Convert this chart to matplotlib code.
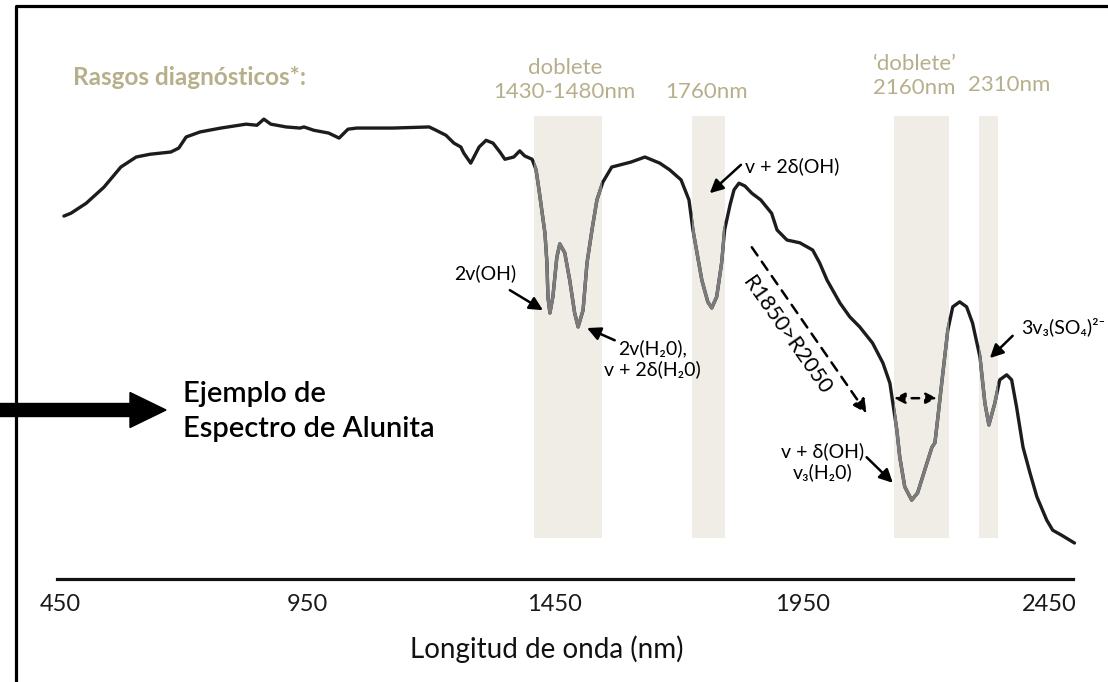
import matplotlib
matplotlib.use('Agg')
import matplotlib.pyplot as plt
from matplotlib.patches import Rectangle, FancyArrow
from matplotlib.lines import Line2D
from matplotlib.transforms import Affine2D

plt.rcParams['font.family'] = ['Lato', 'DejaVu Sans']

# Espectro de alunita: longitud de onda (nm) y reflectancia (%)
longitud_onda = [458, 472, 503, 539, 573, 604, 632, 674, 690, 705, 733, 775, 826, 848, 862, 876,
                 907, 935, 943, 963, 993, 1014, 1032, 1050, 1123, 1196, 1210, 1230, 1246, 1260,
                 1266, 1280, 1297, 1311, 1325, 1339, 1349, 1367, 1379, 1389, 1404, 1412, 1418,
                 1430, 1434, 1436, 1440, 1446, 1454, 1460, 1470, 1480, 1490, 1497, 1507, 1515,
                 1525, 1535, 1547, 1565, 1604, 1632, 1662, 1682, 1705, 1721, 1729, 1747, 1759,
                 1767, 1777, 1787, 1793, 1804, 1812, 1822, 1834, 1848, 1866, 1888, 1899, 1919,
                 1945, 1971, 1985, 2000, 2026, 2046, 2066, 2092, 2113, 2127, 2133, 2141, 2147,
                 2157, 2171, 2183, 2202, 2212, 2218, 2224, 2234, 2244, 2254, 2268, 2282, 2294,
                 2309, 2319, 2327, 2339, 2349, 2363, 2373, 2383, 2396, 2410, 2424, 2444, 2456,
                 2474, 2500]
reflectancia = [64.8, 65.3, 67.1, 70.0, 73.6, 75.4, 75.9, 76.3, 77.0, 79.0, 79.9, 80.6, 81.3, 81.1,
                82.2, 81.3, 80.8, 80.6, 80.8, 80.2, 79.7, 78.8, 80.4, 80.6, 80.6, 80.8, 80.2, 79.3,
                77.9, 77.2, 76.1, 74.3, 77.2, 78.4, 77.9, 76.3, 75.0, 75.4, 76.5, 75.6, 75.0, 73.1,
                69.5, 61.7, 56.4, 50.3, 47.4, 50.3, 57.4, 59.8, 58.2, 53.3, 47.4, 44.9, 47.9, 56.4,
                62.3, 67.7, 70.9, 73.6, 74.5, 75.4, 74.3, 73.1, 71.3, 67.7, 62.3, 53.3, 49.4, 48.3,
                50.3, 56.4, 62.3, 66.8, 69.5, 70.7, 70.2, 68.9, 67.7, 65.3, 62.3, 60.5, 60.0, 58.7,
                56.4, 53.3, 49.2, 46.7, 44.9, 42.0, 38.4, 34.8, 31.2, 26.4, 21.5, 16.2, 13.8, 15.1,
                20.5, 23.3, 24.1, 28.7, 36.6, 44.3, 48.5, 49.4, 48.5, 45.6, 39.5, 31.2, 27.3, 31.2,
                35.4, 36.3, 35.4, 30.5, 23.3, 18.7, 14.4, 10.2, 8.4, 7.5, 6.1]

# Rasgos diagnósticos (bandas sombreadas, nm)
bandas = [(1408, 1545), (1727, 1793), (2135, 2246), (2307, 2345)]
banda_base, banda_tope = 7.0, 82.7
etiquetas_bandas = [('doblete\n1430-1480nm', 1470, 89.3),
                    ('1760nm', 1757, 87.1),
                    ('\u2018doblete\u2019\n2160nm', 2177, 90.0),
                    ('2310nm', 2369, 88.3)]
marcas_x = [450, 950, 1450, 1950, 2450]

tan = '#b7af8b'
negro = '#1c1c1c'

fig = plt.figure(figsize=(11.08, 6.82), dpi=100)
ax = fig.add_axes([57 / 1108, 103 / 682, 1016 / 1108, 559 / 682])
ax.set_xlim(444, 2497)
ax.set_ylim(-0.36, 100)

for lado in ['top', 'right', 'left']:
    ax.spines[lado].set_visible(False)
ax.spines['bottom'].set_linewidth(2.3)
ax.spines['bottom'].set_color('#111111')
ax.set_yticks([])
ax.set_xticks(marcas_x)
ax.set_xticklabels([str(m) for m in marcas_x])
ax.tick_params(axis='x', length=0, pad=11, labelsize=17, labelcolor='#1a1a1a')

# espectro
ax.plot(longitud_onda, reflectancia, color=negro, lw=2.4, zorder=3, clip_on=False,
        solid_joinstyle='round', solid_capstyle='round')

# bandas con el tramo del espectro en gris
for lo, hi in bandas:
    rect = Rectangle((lo, banda_base), hi - lo, banda_tope - banda_base,
                     facecolor='#efede5', edgecolor='none', zorder=1)
    ax.add_patch(rect)
    gris, = ax.plot(longitud_onda, reflectancia, color='#7b7b7b', lw=2.4, zorder=4,
                    solid_joinstyle='round')
    gris.set_clip_path(rect)

# textos de los rasgos
ax.text(476, 89.6, 'Rasgos diagnósticos*:', color=tan, fontsize=17.5, fontweight='bold',
        ha='left', va='center')
for texto, xc, yc in etiquetas_bandas:
    ax.text(xc, yc, texto, color=tan, fontsize=16, ha='center', va='center', linespacing=1.25)

# anotaciones
flecha = dict(arrowstyle='-|>', color='black', lw=1.8, mutation_scale=20, shrinkA=0, shrinkB=0)
fs = 14
ax.text(1309, 54.6, '2v(OH)', fontsize=fs, ha='center', va='center')
ax.annotate('', xy=(1426, 47.9), xytext=(1359, 51.5), arrowprops=flecha)

ax.text(1648, 39.2, '2v(H\u20820),\nv + 2\u03b4(H\u20820)', fontsize=fs, ha='center', va='center',
        linespacing=1.2)
ax.annotate('', xy=(1515, 44.7), xytext=(1571, 42.5), arrowprops=flecha)

ax.text(1834, 73.8, 'v + 2\u03b4(OH)', fontsize=fs, ha='left', va='center')
ax.annotate('', xy=(1763, 68.9), xytext=(1826, 74.0), arrowprops=flecha)

ax.annotate('', xy=(2080, 29.4), xytext=(1848, 59.2),
            arrowprops=dict(arrowstyle='-|>', color='black', lw=1.8, ls=(0, (4, 3)),
                            mutation_scale=20, shrinkA=0, shrinkB=0))
ax.text(1918, 43.3, 'R1850>R2050', fontsize=15.5, ha='center', va='center', rotation=-55,
        rotation_mode='anchor')

ax.annotate('', xy=(2135, 32.1), xytext=(2222, 32.1),
            arrowprops=dict(arrowstyle='<|-|>', color='black', lw=1.8, ls=(0, (3, 3)),
                            mutation_scale=16, shrinkA=0, shrinkB=0))

ax.text(1991, 20.7, 'v + \u03b4(OH)\nv\u2083(H\u20820)', fontsize=fs, ha='center', va='center',
        linespacing=1.25)
ax.annotate('', xy=(2133, 16.9), xytext=(2080, 21.5), arrowprops=flecha)

ax.text(2393, 44.9, '3v\u2083(SO\u2084)\u00b2\u207b', fontsize=fs, ha='left', va='center')
ax.annotate('', xy=(2329, 39.3), xytext=(2375, 43.3), arrowprops=flecha)

# eje x
fig.text(547 / 1108, 1 - 658 / 682, 'Longitud de onda (nm)', fontsize=20, ha='center',
         va='baseline', color='#111111')

# marco y flecha grande
px = Affine2D().scale(1 / 1108, 1 / 682) + fig.transFigure
fig.add_artist(Line2D([16, 16, 1108], [0, 676, 676], transform=px, color='black', lw=2.3))
fig.add_artist(FancyArrow(0, 272, 166, 0, width=13, head_width=35, head_length=36,
                          length_includes_head=True, color='black', transform=px))
fig.text(183 / 1108, 1 - 402 / 682, 'Ejemplo de', fontsize=21, fontweight='semibold',
         va='baseline', ha='left')
fig.text(183 / 1108, 1 - 437 / 682, 'Espectro de Alunita', fontsize=21, fontweight='semibold',
         va='baseline', ha='left')

fig.savefig('out.png', dpi=100)
